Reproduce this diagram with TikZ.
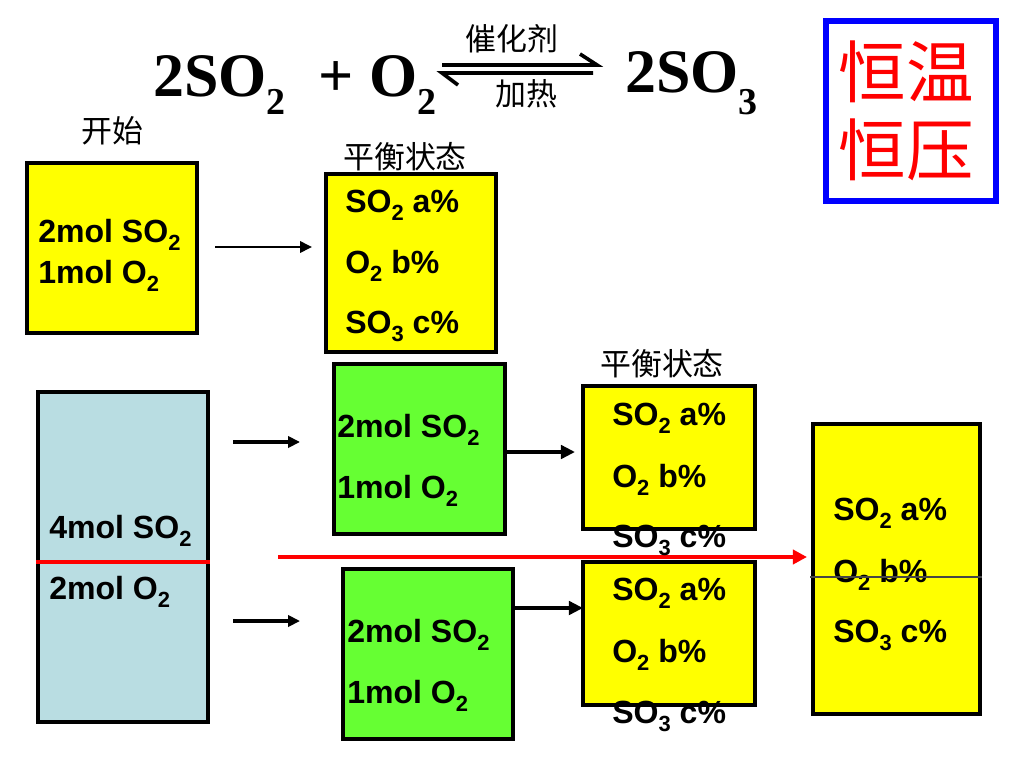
\documentclass[tikz,border=0pt]{standalone}
\usepackage{fontspec}
\setmainfont{Liberation Sans}
\newfontfamily\titlefont{Liberation Serif}
\newfontfamily\cjk{Noto Sans CJK SC}
\usepackage{xcolor}
\definecolor{gelb}{RGB}{255,255,0}
\definecolor{gruen}{RGB}{102,255,51}
\definecolor{hellblau}{RGB}{185,221,226}
\definecolor{linie}{RGB}{70,70,70}
\usetikzlibrary{arrows.meta,fit}
\newcommand\idx[1]{\raisebox{-5.7pt}{\fontsize{15.6}{16}\selectfont #1}}
\newcommand\tidx[2][12.8pt]{\raisebox{-#1}{\fontsize{27}{27}\selectfont #2}}
\tikzset{
    kasten/.style={draw=black, line width=2.8pt, inner sep=0pt},
    txt/.style={anchor=base west, inner sep=0pt, font=\bfseries\fontsize{22.8}{24}\selectfont},
    titel/.style={anchor=base west, inner sep=0pt, font=\titlefont\bfseries\fontsize{44}{44}\selectfont},
    zh/.style={inner sep=0pt, font=\cjk\fontsize{22}{24}\selectfont},
    pfeil/.style={-{Triangle[length=8.5pt,width=8pt]}, line width=2.3pt},
}

\begin{document}
\begin{tikzpicture}[x=0.025cm, y=-0.025cm]
        \useasboundingbox (0,0) rectangle (1024,768);                               % Umgebung
        \node[titel] (so2) at (153,97) {2SO\tidx{2}};                               % Edukt 1
        \node[titel] (o2) at (318,97) {+ O\tidx{2}};                                % Edukt 2
        \node[titel] (so3) at (625,93) {2SO\tidx[15.6pt]{3}};                       % Produkt
        \draw[line width=2.6pt] (442,65) -- (597,65) -- (580,54);                   % Hinreaktion
        \draw[line width=2.6pt] (593,73) -- (442,73) -- (458,85);                   % Rueckreaktion
        \node[zh] (kat) at (512,39) {催化剂};                                        % Katalysator
        \node[zh] (heiz) at (526,94) {加热};                                         % Erhitzen
        \node[draw=blue, line width=4.6pt, inner sep=0pt, fit={(826,21) (996,201)}] (bed) {}; % Rahmen Bedingung
        \node[inner sep=0pt, text=red, align=center, font=\cjk\fontsize{48}{55.5}\selectfont] (bedtxt) at (906,111) {恒温\\恒压}; % Bedingung
        \node[zh] (start) at (112,131) {开始};                                       % Beginn
        \node[kasten, fill=gelb, fit={(27,163) (197,333)}] (A) {};                  % Startbehaelter
        \node[txt] (A1) at (38,242) {2mol SO\idx{2}};
        \node[txt] (A2) at (38,283) {1mol O\idx{2}};
        \node[zh] (glg1) at (405,157) {平衡状态};                                     % Gleichgewicht oben
        \node[kasten, fill=gelb, fit={(326,174) (496,352)}] (B) {};                 % Gleichgewicht 1
        \node[txt] (B1) at (345,212) {SO\idx{2} a\%};
        \node[txt] (B2) at (345,273) {O\idx{2} b\%};
        \node[txt] (B3) at (345,333) {SO\idx{3} c\%};
        \coordinate (pA) at (215,247);
        \coordinate (pB) at (312,247);
        \draw[pfeil, line width=1.9pt] (pA) -- (pB);                                % Pfeil A-B
        \node[kasten, fill=hellblau, fit={(38,392) (208,722)}] (C) {};              % doppelter Behaelter
        \draw[red, line width=2.8pt] (C.west |- 0,562) -- (C.east |- 0,562);        % Trennlinie
        \node[txt] (C1) at (49,538) {4mol SO\idx{2}};
        \node[txt] (C2) at (49,599) {2mol O\idx{2}};
        \coordinate (pC1) at (233,442);
        \coordinate (pD1) at (300,442);
        \coordinate (pC2) at (233,621);
        \coordinate (pD2) at (300,621);
        \draw[pfeil] (pC1) -- (pD1);                                                % Pfeil oben
        \draw[pfeil] (pC2) -- (pD2);                                                % Pfeil unten
        \node[kasten, fill=gruen, fit={(334,364) (505,534)}] (D1) {};               % Teil oben
        \node[txt] (D11) at (337,437) {2mol SO\idx{2}};
        \node[txt] (D12) at (337,498) {1mol O\idx{2}};
        \node[kasten, fill=gruen, fit={(343,569) (513,739)}] (D2) {};               % Teil unten
        \node[txt] (D21) at (347,642) {2mol SO\idx{2}};
        \node[txt] (D22) at (347,703) {1mol O\idx{2}};
        \node[zh] (glg2) at (662,364) {平衡状态};                                     % Gleichgewicht Mitte
        \node[kasten, fill=gelb, fit={(583,386) (755,529)}] (E1) {};                % Gleichgewicht oben
        \node[kasten, fill=gelb, fit={(583,562) (755,705)}] (E2) {};                % Gleichgewicht unten
        \coordinate (pE1) at (575,452);
        \coordinate (pE2) at (583,608);
        \draw[pfeil, line width=2.8pt, -{Triangle[length=10pt,width=9.5pt]}] (D1.east |- pE1) -- (pE1); % Pfeil D1-E1
        \draw[pfeil, line width=2.8pt, -{Triangle[length=10pt,width=9.5pt]}] (D2.east |- pE2) -- (pE2); % Pfeil D2-E2
        \coordinate (pR1) at (278,557);
        \coordinate (pR2) at (807,557);
        \draw[red, line width=2.8pt, -{Triangle[length=10pt,width=10pt]}] (pR1) -- (pR2); % Zusammenfuehren
        \node[txt] (E11) at (612,425) {SO\idx{2} a\%};
        \node[txt] (E12) at (612,487) {O\idx{2} b\%};
        \node[txt] (E13) at (612,547) {SO\idx{3} c\%};
        \node[txt] (E21) at (612,600) {SO\idx{2} a\%};
        \node[txt] (E22) at (612,662) {O\idx{2} b\%};
        \node[txt] (E23) at (612,723) {SO\idx{3} c\%};
        \node[kasten, fill=gelb, fit={(813,424) (980,714)}] (F) {};                 % Gesamtgleichgewicht
        \node[txt] (F1) at (833,520) {SO\idx{2} a\%};
        \node[txt] (F2) at (833,582) {O\idx{2} b\%};
        \node[txt] (F3) at (833,642) {SO\idx{3} c\%};
        \draw[linie, line width=1pt] (810,577) -- (F.east |- 0,577);                % Trennlinie
\end{tikzpicture}
\end{document}
